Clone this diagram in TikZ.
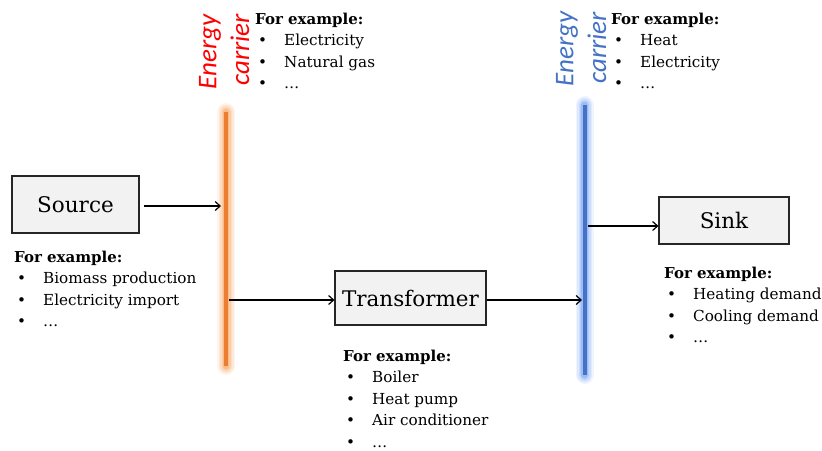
\documentclass[tikz,border=0pt]{standalone}
\usepackage{fontspec}
\setmainfont{DejaVu Serif}
\newfontfamily\carrierfont{Carlito}
\usetikzlibrary{arrows.meta}
\definecolor{carrierorange}{HTML}{ED7D31}
\definecolor{glowOrange}{HTML}{F9A866}
\definecolor{carrierblue}{HTML}{4472C4}
\definecolor{glowBlue}{HTML}{7FA8F5}
\definecolor{boxfill}{HTML}{F2F2F2}
\definecolor{labelred}{HTML}{FF0000}
\definecolor{labelblue}{HTML}{4472C4}

% heading plus bullet list placed at (x, baseline y)
\newcommand\exlist[4]{%
  \node[head] (#1-h) at (#2,#3) {For example:};
  \foreach \t [count=\i] in {#4} {
    \node[item] (#1-b\i) at (#2+3,#3+\i*21.6) {\textbullet};
    \node[item] (#1-t\i) at (#2+29,#3+\i*21.6) {\t};
  }}

% glowing energy-carrier bus
\newcommand\carrierbus[4]{% #1 core colour, #2 glow colour, #3 top, #4 bottom
  \foreach \w/\o in {18/0.12,15/0.15,12/0.2,9/0.3,6.5/0.45}
    \draw[#2, line width=\w pt, opacity=\o, line cap=round] (#3) -- (#4);
  \draw[#1, line width=4pt] (#3) -- (#4);}

\begin{document}
\begin{tikzpicture}[x=1pt,y=-1pt,
  unit/.style={draw=black!85, line width=1.1pt, fill=boxfill, inner sep=0pt,
    font=\fontsize{21.5}{23}\selectfont},
  flow/.style={-{Straight Barb[length=5pt,width=9pt]}, line width=1.2pt},
  head/.style={font=\fontsize{15}{17}\selectfont\bfseries, anchor=base west, inner sep=0pt},
  item/.style={font=\fontsize{15.2}{17}\selectfont, anchor=base west, inner sep=0pt},
  carrier/.style={font=\fontsize{27}{29}\selectfont\carrierfont\itshape, rotate=90, inner sep=0pt}]
\useasboundingbox (0,0) rectangle (822,450);

% energy carrier buses
\coordinate (busA-top) at (226,112);
\coordinate (busA-bot) at (226,366);
\coordinate (busB-top) at (584.7,105);
\coordinate (busB-bot) at (584.7,375);
\carrierbus{carrierorange}{glowOrange}{busA-top}{busA-bot}
\carrierbus{carrierblue}{glowBlue}{busB-top}{busB-bot}

\node[carrier, text=labelred] (ecA1) at (210,52) {Energy};
\node[carrier, text=labelred] (ecA2) at (240,50) {carrier};
\node[carrier, text=labelblue] (ecB1) at (567,49) {Energy};
\node[carrier, text=labelblue] (ecB2) at (597,48) {carrier};

% components
\node[unit, minimum width=127pt, minimum height=57pt] (source) at (75.5,204.5) {Source};
\node[unit, minimum width=151pt, minimum height=54pt] (trafo) at (410.5,298) {Transformer};
\node[unit, minimum width=130pt, minimum height=47pt] (sink) at (724,220.5) {Sink};

% bus connection points
\coordinate (busA-in) at (221,206);
\coordinate (busA-out) at (229,300);
\coordinate (busB-in) at (582,300);
\coordinate (busB-out) at (588,226);

\draw[flow] (source.east |- busA-in) ++(4,0) -- (busA-in);
\draw[flow] (busA-out) -- (trafo.west |- busA-out);
\draw[flow] (trafo.east |- busB-in) -- (busB-in);
\draw[flow] (busB-out) -- (sink.west |- busB-out);

% examples
\exlist{exA}{255}{24}{Electricity,Natural gas,\ldots}
\exlist{exB}{611}{24}{Heat,Electricity,\ldots}
\exlist{exS}{14}{262}{Biomass production,Electricity import,\ldots}
\exlist{exT}{343}{361}{Boiler,Heat pump,Air conditioner,\ldots}
\exlist{exK}{664}{278}{Heating demand,Cooling demand,\ldots}
\end{tikzpicture}
\end{document}
